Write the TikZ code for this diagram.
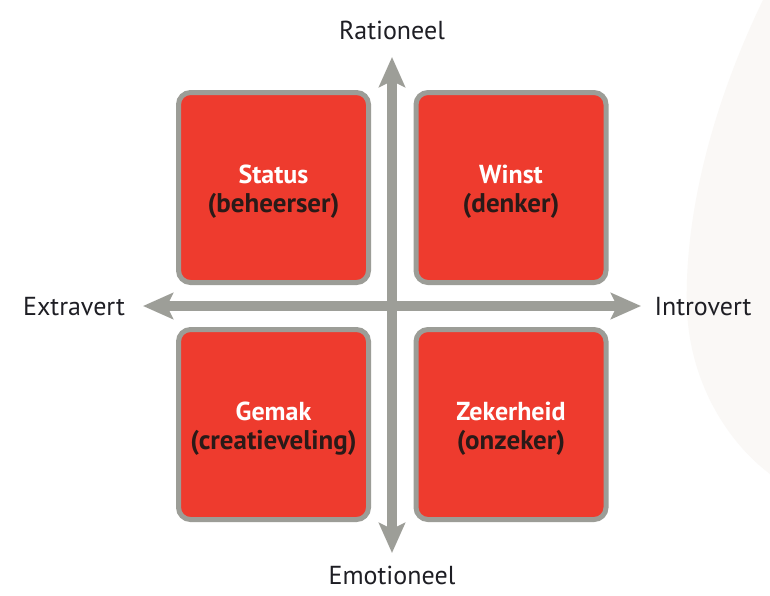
\documentclass[tikz,border=0pt]{standalone}
\usepackage{fontspec}
\setmainfont{PT Sans}
\usetikzlibrary{arrows.meta}
\definecolor{boxred}{HTML}{EE3B2E}
\definecolor{boxgray}{HTML}{9C9D97}
\definecolor{axisgray}{HTML}{9D9E98}
\definecolor{txtdark}{HTML}{1E1E24}
\definecolor{subdark}{HTML}{2A1A18}
\definecolor{bgcurve}{HTML}{FAF8F6}
\tikzset{
  quad/.style={draw=boxgray, line width=5pt, fill=boxred, rounded corners=12pt,
    minimum width=190pt, minimum height=190pt, inner sep=0pt},
  qtxt/.style={align=center, inner sep=0pt, font=\fontsize{27}{28.5}\selectfont\bfseries},
  axis/.style={draw=axisgray, line width=10pt,
    {Stealth[length=30pt,width=26pt,inset=6pt]}-{Stealth[length=30pt,width=26pt,inset=6pt]}},
  lab/.style={text=txtdark, font=\fontsize{26}{30}\selectfont, inner sep=0pt}
}
\newcommand{\qtitle}[1]{{\fontsize{26}{28.5}\selectfont\textcolor{white}{#1}}}
\newcommand{\qsub}[1]{{\fontsize{27}{28.5}\selectfont\textcolor{subdark}{#1}}}
\begin{document}
\begin{tikzpicture}[x=1pt,y=-1pt]
\useasboundingbox (0,0) rectangle (770,595);
\fill[white] (0,0) rectangle (770,595);
\fill[bgcurve] (763,0) .. controls (705,120) and (684,230) .. (687,310)
  .. controls (690,380) and (725,440) .. (770,474) -- (770,0) -- cycle;
\node[quad] (status) at (273.5,187.5) {};
\node[quad] (winst) at (511,187.5) {};
\node[quad] (gemak) at (273.5,424.5) {};
\node[quad] (zeker) at (511,424.5) {};
\node[qtxt] (status-t) at ([yshift=-4pt]status.center) {\qtitle{Status}\\\qsub{(beheerser)}};
\node[qtxt] (winst-t) at ([yshift=-4pt]winst.center) {\qtitle{Winst}\\\qsub{(denker)}};
\node[qtxt] (gemak-t) at ([yshift=-4pt]gemak.center) {\qtitle{Gemak}\\\qsub{(creatieveling)}};
\node[qtxt] (zeker-t) at ([yshift=-4pt]zeker.center) {\qtitle{Zekerheid}\\\qsub{(onzeker)}};
\coordinate (vtop) at (392,57);
\coordinate (vbot) at (392,553);
\coordinate (hleft) at (143,306);
\coordinate (hright) at (641,306);
\draw[axis] (vbot) -- (vtop);
\draw[axis] (hleft) -- (hright);
\node[lab] (rat) at (392,30) {Rationeel};
\node[lab] (emo) at (392,575) {Emotioneel};
\node[lab] (extra) at (74,307) {Extravert};
\node[lab] (intro) at (703,307) {Introvert};
\end{tikzpicture}
\end{document}
